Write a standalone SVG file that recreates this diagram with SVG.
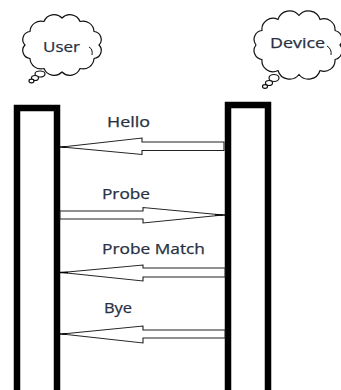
<svg xmlns="http://www.w3.org/2000/svg" width="341" height="390" viewBox="0 0 341 390">
<style>
.lbl{font-family:"Open Sans","DejaVu Sans",sans-serif;font-size:14px;fill:#273142;stroke:#273142;stroke-width:0.25}
.cloud{fill:#fff;stroke:#111;stroke-width:1.2;stroke-linejoin:round}
.bar{fill:#fff;stroke:#000;stroke-width:6.5}
.arrow{fill:#fff;stroke:#222;stroke-width:1.1;stroke-linejoin:miter}
</style>
<rect width="341" height="390" fill="#fff"/>
<g id="user">
<path class="cloud" d="M25,45 A8,8 0 0 1 30,31.5 A11,11 0 0 1 44,21.5 A11,11 0 0 1 62,18 A11,11 0 0 1 80,21.5 A11,11 0 0 1 94,31.5 A8,8 0 0 1 99,45 A8,8 0 0 1 94,58.5 A11,11 0 0 1 80,68.5 A11,11 0 0 1 62,72 A11,11 0 0 1 44,68.5 A11,11 0 0 1 30,58.5 A8,8 0 0 1 25,45 Z"/>
<path d="M89,47 Q93,49 92,55" fill="none" stroke="#111" stroke-width="1"/>
<ellipse class="cloud" cx="40" cy="74" rx="5" ry="3"/>
<ellipse class="cloud" cx="35" cy="78" rx="3.5" ry="2.5"/>
<ellipse class="cloud" cx="31.5" cy="81" rx="2.5" ry="1.8"/>
<text class="lbl" x="43" y="52" textLength="37" lengthAdjust="spacingAndGlyphs">User</text>
</g>
<g id="device">
<path class="cloud" d="M256,45 A9,9 0 0 1 262,30.5 A11,11 0 0 1 278,19.5 A12,12 0 0 1 299,15.5 A12,12 0 0 1 320,19.5 A11,11 0 0 1 335,30.5 A9,9 0 0 1 340,45 A9,9 0 0 1 335,59.5 A11,11 0 0 1 320,70.5 A12,12 0 0 1 299,74.5 A12,12 0 0 1 278,70.5 A11,11 0 0 1 262,59.5 A9,9 0 0 1 256,45 Z"/>
<path d="M327,46 Q332,49 331,55" fill="none" stroke="#111" stroke-width="1"/>
<ellipse class="cloud" cx="274" cy="78" rx="5" ry="3.5"/>
<ellipse class="cloud" cx="269" cy="83" rx="3.5" ry="2.5"/>
<ellipse class="cloud" cx="265" cy="86.5" rx="2.5" ry="1.8"/>
<text class="lbl" x="270" y="48" textLength="55" lengthAdjust="spacingAndGlyphs">Device</text>
</g>
<g id="user-bar"><rect class="bar" x="17" y="108" width="40" height="300"/></g>
<g id="device-bar"><rect class="bar" x="228" y="105" width="40" height="300"/></g>
<g id="connectors">
<polygon class="arrow" points="224,142 142,142 142,138 62,147 142,154.5 142,150.5 224,150.5"/>
<line x1="60" y1="147" x2="66" y2="147" stroke="#000" stroke-width="1.5"/>
<polygon class="arrow" points="60,211 143,211 143,207.5 223,215 143,223 143,219 60,219"/>
<line x1="215" y1="215" x2="225" y2="215" stroke="#000" stroke-width="1.5"/>
<polygon class="arrow" points="225,268 143,268 143,265 62,272.5 143,281 143,277 225,277"/>
<line x1="60" y1="272.5" x2="68" y2="272.5" stroke="#000" stroke-width="1.5"/>
<polygon class="arrow" points="225,330 143,330 143,326 62,334 143,343 143,338 225,338"/>
<line x1="60" y1="334" x2="67" y2="334" stroke="#000" stroke-width="1.5"/>
</g>
<g id="labels">
<text class="lbl" x="107" y="127" textLength="43" lengthAdjust="spacingAndGlyphs">Hello</text>
<text class="lbl" x="102" y="199" textLength="48" lengthAdjust="spacingAndGlyphs">Probe</text>
<text class="lbl" x="102" y="254" textLength="103" lengthAdjust="spacingAndGlyphs">Probe Match</text>
<text class="lbl" x="104" y="313" textLength="28" lengthAdjust="spacingAndGlyphs">Bye</text>
</g>
</svg>
